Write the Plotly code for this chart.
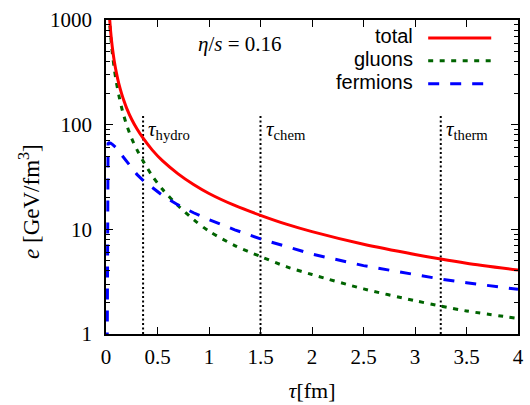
import math
import plotly.graph_objects as go

# ---- data ----
tau_total = [0.025, 0.03, 0.036, 0.045, 0.055, 0.065, 0.08, 0.1, 0.125, 0.15, 0.175, 0.2, 0.25, 0.3, 0.357,
             0.45, 0.55, 0.7, 0.85, 1.0, 1.25, 1.5, 1.75, 2.0, 2.5, 3.0, 3.25, 3.5, 4.0]
e_total = [1514, 1232, 1003, 779, 621, 514, 406, 316, 245, 200, 168, 144, 112, 91.3, 75,
           57.1, 45.0, 33.9, 26.8, 22.0, 16.9, 13.6, 11.2, 9.5, 7.2, 5.75, 5.2, 4.75, 4.08]

tau_gluons = [0.025, 0.03, 0.036, 0.045, 0.055, 0.065, 0.08, 0.1, 0.125, 0.15, 0.175, 0.2, 0.25, 0.3, 0.357,
              0.45, 0.55, 0.7, 0.85, 1.0, 1.25, 1.5, 1.75, 2.0, 2.5, 3.0, 3.25, 3.5, 4.0]
e_gluons = [1448, 1165, 936, 712, 556, 450, 344, 256, 190, 148, 120, 99.5, 73.5, 57.8, 45.5,
            32.3, 24.0, 16.8, 12.4, 9.6, 7.0, 5.5, 4.4, 3.7, 2.7, 2.08, 1.85, 1.66, 1.41]

tau_fermions = [0.011, 0.012, 0.013, 0.015, 0.02, 0.03, 0.045, 0.065, 0.08, 0.1, 0.125, 0.15, 0.175, 0.2,
                0.25, 0.3, 0.357, 0.45, 0.55, 0.7, 0.85, 1.0, 1.25, 1.5, 1.75, 2.0, 2.5, 3.0, 3.25, 3.5, 4.0]
e_fermions = [0.5, 8, 35, 58, 66, 67, 66.5, 64.5, 62.5, 60, 55.5, 51.5, 47.5, 44.5,
              38.5, 33.5, 29.5, 24.8, 21.0, 17.1, 14.4, 12.4, 9.9, 8.1, 6.8, 5.8, 4.5, 3.67, 3.35, 3.09, 2.67]

tau_marks = [0.36, 1.5, 3.25]
mark_names = ["hydro", "chem", "therm"]
mark_range = [1, 127]

x_ticks = [0, 0.5, 1, 1.5, 2, 2.5, 3, 3.5, 4]
x_ticktext = ["0", "0.5", "1", "1.5", "2", "2.5", "3", "3.5", "4"]
y_ticks = [1, 10, 100, 1000]
y_ticktext = ["1", "10", "100", "1000"]
y_minor = [m * 10 ** k for k in range(3) for m in range(2, 10)]

series_names = ["total", "gluons", "fermions"]
series_colors = ["#ff0000", "#006400", "#0000ff"]
series_dash = ["solid", "5px,6.5px", "11px,11px"]

SERIF = "Liberation Serif, Times New Roman, serif"
SANS = "Liberation Sans, Arial, sans-serif"

fig = go.Figure()

for tm in tau_marks:
    fig.add_trace(go.Scatter(x=[tm, tm], y=mark_range, mode="lines",
                             line=dict(color="black", width=2, dash="2px,2.5px"),
                             hoverinfo="skip"))

fig.add_trace(go.Scatter(x=tau_gluons, y=e_gluons, mode="lines", name=series_names[1],
                         line=dict(color=series_colors[1], width=3, dash=series_dash[1], shape="spline", smoothing=0.8)))
fig.add_trace(go.Scatter(x=tau_fermions, y=e_fermions, mode="lines", name=series_names[2],
                         line=dict(color=series_colors[2], width=3, dash=series_dash[2])))
fig.add_trace(go.Scatter(x=tau_total, y=e_total, mode="lines", name=series_names[0],
                         line=dict(color=series_colors[0], width=3, dash=series_dash[0], shape="spline", smoothing=0.8)))

# tau labels
for tm, nm in zip(tau_marks, mark_names):
    fig.add_annotation(x=tm, y=math.log10(88), xref="x", yref="y", xanchor="left", yanchor="middle",
                       xshift=3, showarrow=False,
                       text="<i>τ</i><sub>%s</sub>" % nm,
                       font=dict(family=SERIF, size=21, color="black"))

# eta/s label
fig.add_annotation(x=0.325, y=0.925, xref="paper", yref="paper", xanchor="center", yanchor="middle",
                   showarrow=False, text="<i>η</i>/<i>s</i> = 0.16",
                   font=dict(family=SERIF, size=21, color="black"))

# manual legend (text left, line sample right)
leg_y = [0.948, 0.875, 0.802]
for nm, col, ds, yy in zip(series_names, series_colors, series_dash, leg_y):
    fig.add_annotation(x=0.751, y=yy, xref="paper", yref="paper", xanchor="right", yanchor="middle",
                       showarrow=False, text=nm, font=dict(family=SANS, size=20, color="black"))
    fig.add_shape(type="line", xref="paper", yref="paper", x0=0.782, x1=0.935, y0=yy - 0.005, y1=yy - 0.005,
                  line=dict(color=col, width=3, dash=ds))

# y axis title (rotated text; its lower end sits where the reference's does)
fig.add_annotation(x=-0.187, y=0.234, xref="paper", yref="paper", xanchor="center", yanchor="bottom",
                   textangle=-90, showarrow=False, text="<i>e</i> [GeV/fm<sup>3</sup>]",
                   font=dict(family=SERIF, size=23, color="black"))

axis_common = dict(showline=True, linecolor="black", linewidth=1.5, mirror="ticks",
                   ticks="inside", ticklen=7, tickwidth=1, tickcolor="black",
                   showgrid=False, zeroline=False,
                   tickfont=dict(family=SERIF, size=21, color="black"))

fig.update_xaxes(range=[0, 4], tickvals=x_ticks, ticktext=x_ticktext, ticklabelstandoff=3,
                 title=dict(text="<i>τ</i>[fm]", font=dict(family=SERIF, size=22, color="black"), standoff=15),
                 **axis_common)
fig.update_yaxes(type="log", range=[0, 3], tickvals=y_ticks, ticktext=y_ticktext, ticklabelstandoff=8,
                 minor=dict(tickvals=y_minor, ticks="inside", ticklen=4, tickcolor="black", tickwidth=1, showgrid=False),
                 **axis_common)

fig.update_layout(width=530, height=405, margin=dict(l=106, r=6, t=20, b=69),
                  plot_bgcolor="white", paper_bgcolor="white", showlegend=False,
                  font=dict(family=SERIF, size=21, color="black"))

# remove the page's default body margin so the 530x405 figure fills the window exactly
fig.write_html("out.html", config={"displayModeBar": False},
               post_script="document.body.style.margin='0';document.body.style.overflow='hidden';")
